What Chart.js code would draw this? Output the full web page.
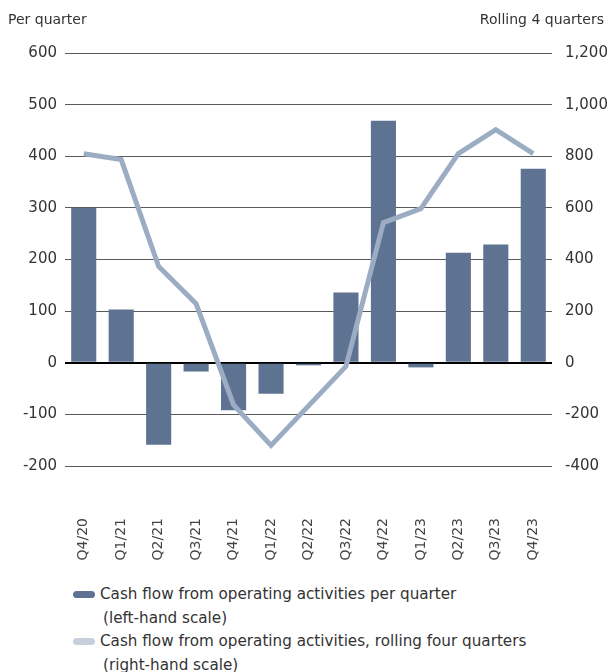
<!DOCTYPE html>
<html>
<head>
<meta charset="utf-8">
<script src="https://cdn.jsdelivr.net/npm/chart.js@4"></script>
<style>
body{margin:0;background:#fff;font-family:"DejaVu Sans",sans-serif;color:#333;}
#wrap{position:relative;width:608px;height:672px;}
#c{position:absolute;left:0;top:0;}
.ttl{position:absolute;top:11px;font-size:14px;color:#333;}
#legend{position:absolute;left:73px;top:583px;font-size:15.2px;line-height:23.5px;color:#333;}
.li{position:relative;padding-left:27px;white-space:nowrap;}
.sw{position:absolute;left:0;top:8px;width:22px;height:7px;border-radius:4px;}
.sub{padding-left:3px;}
</style>
</head>
<body>
<div id="wrap">
<canvas id="c" width="608" height="575"></canvas>
<div class="ttl" style="left:8px">Per quarter</div>
<div class="ttl" style="right:4px">Rolling 4 quarters</div>
<div id="legend"></div>
</div>
<script>
var quarters=["Q4/20","Q1/21","Q2/21","Q3/21","Q4/21","Q1/22","Q2/22","Q3/22","Q4/22","Q1/23","Q2/23","Q3/23","Q4/23"];
var perQuarter=[300,103,-159,-17,-92,-60,-5,136,469,-9,213,229,376];
var rolling=[810,787,373,229,-163,-320,-167,-14,543,597,810,903,810];
var seriesNames=["Cash flow from operating activities per quarter","Cash flow from operating activities, rolling four quarters"];
var scaleNotes=["(left-hand scale)","(right-hand scale)"];
var barColor="#5e7391", lineColor="#9cadc3";

var lg=document.getElementById('legend');
[barColor,"#c6cfdb"].forEach(function(col,i){
    var d=document.createElement('div');d.className='li';
    d.innerHTML='<span class="sw" style="background:'+col+'"></span>'+seriesNames[i]+'<div class="sub">'+scaleNotes[i]+'</div>';
    lg.appendChild(d);
});

var fnt={family:"DejaVu Sans",size:15};
var chart=new Chart(document.getElementById('c'),{
    data:{
        labels:quarters,
        datasets:[
            {type:'line',data:rolling,yAxisID:'y2',borderColor:lineColor,borderWidth:5,pointRadius:0,tension:0,order:0},
            {type:'bar',data:perQuarter,yAxisID:'y',backgroundColor:barColor,categoryPercentage:1,barPercentage:0.67,order:1}
        ]
    },
    options:{
        responsive:false,animation:false,
        layout:{padding:{top:53,left:0,right:0,bottom:0}},
        plugins:{legend:{display:false},tooltip:{enabled:false}},
        scales:{
            x:{grid:{display:false},border:{display:false},
               ticks:{minRotation:90,maxRotation:90,padding:44,color:'#444',font:{family:"DejaVu Sans",size:14}},
               afterFit:function(s){s.height=109;}},
            y:{position:'left',min:-200,max:600,border:{display:false},
               ticks:{stepSize:100,color:'#333',font:fnt,padding:8},
               grid:{drawTicks:false,color:function(c){return c.tick.value==0?'#000':'#5a5a5a';},lineWidth:function(c){return c.tick.value==0?2:1;}},
               afterFit:function(s){s.width=65;}},
            y2:{position:'right',min:-400,max:1200,border:{display:false},
               grid:{display:false},
               ticks:{stepSize:200,color:'#333',font:fnt,padding:5,callback:function(v){return v.toLocaleString('en-US');}},
               afterFit:function(s){s.width=56;}}
        }
    }
});
</script>
</body>
</html>
